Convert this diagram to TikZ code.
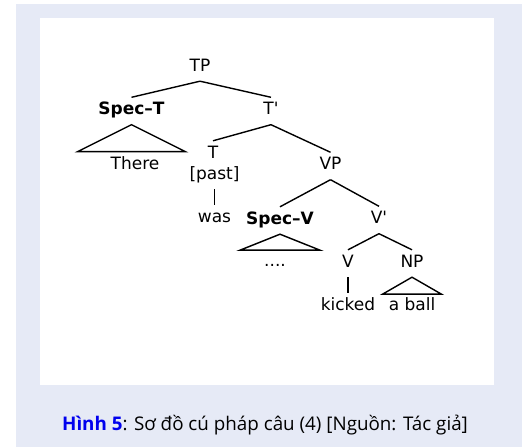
\documentclass[tikz,border=0pt]{standalone}
\usepackage{fontspec}
\setmainfont{DejaVu Sans}
\newfontfamily\capfont{Open Sans}
\usepackage{tikz}
\definecolor{panelbg}{RGB}{230,234,246}
\definecolor{figblue}{RGB}{0,0,238}
\tikzstyle{cat} = [inner sep=0pt, text height=17.5pt, text depth=9.5pt, font=\fontsize{17}{20}\selectfont]
\tikzstyle{catb} = [cat, font=\fontsize{17}{20}\selectfont\bfseries]
\tikzstyle{branch} = [line width=1.4pt]

\begin{document}
\begin{tikzpicture}[x=1pt, y=1pt, node distance=43.5pt]
		% page, frame and panel
		\fill[white] (0,0) rectangle (527,447);
		\fill[panelbg] (16,0) rectangle (522,443);
		\fill[white] (40,62) rectangle (494,429);
		\useasboundingbox (0,0) rectangle (527,447);
		% tree
		\node (tp) [cat] at (200,379.5) {TP};
		\node (spect) [catb, below of = tp, xshift = -68.5pt] {Spec--T};
		\node (tbar) [cat, below of = tp, xshift = 71pt] {T\textquotesingle};
		\node (there) [cat, below of = spect, xshift = 3.5pt, yshift = -11.5pt] {There};
		\node (tn) [cat, below of = tbar, xshift = -58pt] {T};
		\node (past) [cat, below of = tn, xshift = 1.5pt, yshift = 22.5pt] {[past]};
		\node (was) [cat, below of = past] {was};
		\node (vp) [cat, below of = tbar, xshift = 59.5pt, yshift = -11.5pt] {VP};
		\node (specv) [catb, below of = vp, xshift = -50.5pt, yshift = -11pt] {Spec--V};
		\node (vbar) [cat, below of = vp, xshift = 48.5pt, yshift = -10.5pt] {V\textquotesingle};
		\node (dots) [cat, below of = specv, xshift = -5pt, yshift = 1pt] {....};
		\node (vn) [cat, below of = vbar, xshift = -31pt] {V};
		\node (np) [cat, below of = vbar, xshift = 33pt] {NP};
		\node (kicked) [cat, below of = vn] {kicked};
		\node (aball) [cat, below of = np] {a ball};
		\draw [branch] (tp.south) -- (spect.north);
		\draw [branch] (tp.south) -- (tbar.north);
		\draw [branch] (spect.south) -- ++(-54,-27) -- ++(108,0) -- cycle;
		\draw [branch] (tbar.south) -- (tn.north);
		\draw [branch] (tbar.south) -- (vp.north);
		\draw [branch] (past.south) -- (was.north);
		\draw [branch] (vp.south) -- (specv.north);
		\draw [branch] (vp.south) -- (vbar.north);
		\draw [branch] (specv.south) -- ++(-40,-16) -- ++(80,0) -- cycle;
		\draw [branch] (vbar.south) -- (vn.north);
		\draw [branch] (vbar.south) -- (np.north);
		\draw [branch] (vn.south) -- (kicked.north);
		\draw [branch] (np.south) -- ++(-29.5,-17) -- ++(59,0) -- cycle;
		% caption
		\node (caption) [anchor=base, font=\capfont\fontsize{18.8}{22}\selectfont] at (265,17) {\textcolor{figblue}{\bfseries Hình 5}: Sơ đồ cú pháp câu (4) [Nguồn: Tác giả]};
	\end{tikzpicture}
\end{document}
